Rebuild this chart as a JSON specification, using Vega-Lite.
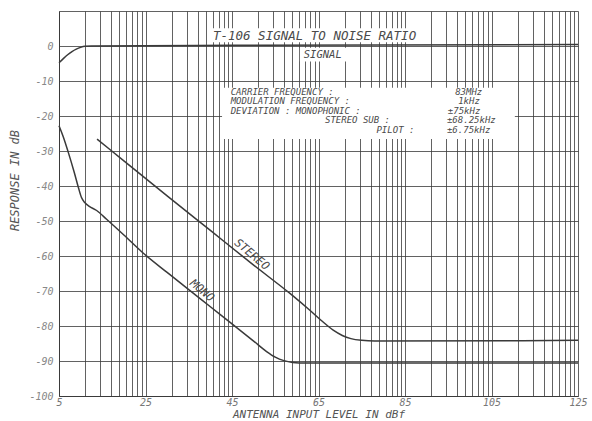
{
  "$schema": "https://vega.github.io/schema/vega-lite/v6.json",
  "width": 519,
  "height": 385,
  "autosize": {"type": "none"},
  "padding": {"left": 59, "top": 11, "right": 14, "bottom": 25},
  "background": "white",
  "config": {
    "view": {"stroke": null},
    "font": "DejaVu Sans Mono"
  },
  "datasets": {
    "curves": [
      {"series": "signal", "x": 5, "y": -4.8},
      {"series": "signal", "x": 6, "y": -3.6},
      {"series": "signal", "x": 7, "y": -2.5},
      {"series": "signal", "x": 8, "y": -1.6},
      {"series": "signal", "x": 9, "y": -0.9},
      {"series": "signal", "x": 10, "y": -0.4},
      {"series": "signal", "x": 11, "y": -0.1},
      {"series": "signal", "x": 12.5, "y": 0},
      {"series": "signal", "x": 45, "y": 0.2},
      {"series": "signal", "x": 125, "y": 0.4},
      {"series": "mono", "x": 5, "y": -22.8},
      {"series": "mono", "x": 6, "y": -26},
      {"series": "mono", "x": 7.15, "y": -30.4},
      {"series": "mono", "x": 8.5, "y": -36},
      {"series": "mono", "x": 9.5, "y": -40.5},
      {"series": "mono", "x": 10.2, "y": -43.3},
      {"series": "mono", "x": 11, "y": -44.8},
      {"series": "mono", "x": 12, "y": -45.8},
      {"series": "mono", "x": 13.7, "y": -47},
      {"series": "mono", "x": 16, "y": -49.5},
      {"series": "mono", "x": 20, "y": -54},
      {"series": "mono", "x": 24.5, "y": -59.2},
      {"series": "mono", "x": 30, "y": -64.7},
      {"series": "mono", "x": 35, "y": -69.6},
      {"series": "mono", "x": 40, "y": -74.5},
      {"series": "mono", "x": 45, "y": -79.4},
      {"series": "mono", "x": 50, "y": -84.3},
      {"series": "mono", "x": 53, "y": -87.3},
      {"series": "mono", "x": 55, "y": -88.9},
      {"series": "mono", "x": 57, "y": -89.9},
      {"series": "mono", "x": 59, "y": -90.4},
      {"series": "mono", "x": 62, "y": -90.6},
      {"series": "mono", "x": 125, "y": -90.6},
      {"series": "stereo", "x": 13.8, "y": -26.6},
      {"series": "stereo", "x": 20, "y": -32.8},
      {"series": "stereo", "x": 30, "y": -42.8},
      {"series": "stereo", "x": 40, "y": -52.7},
      {"series": "stereo", "x": 50, "y": -62.6},
      {"series": "stereo", "x": 58.4, "y": -70.7},
      {"series": "stereo", "x": 63, "y": -75.5},
      {"series": "stereo", "x": 66, "y": -78.8},
      {"series": "stereo", "x": 68.4, "y": -81.2},
      {"series": "stereo", "x": 70.5, "y": -82.7},
      {"series": "stereo", "x": 72.5, "y": -83.6},
      {"series": "stereo", "x": 75, "y": -84.1},
      {"series": "stereo", "x": 78, "y": -84.3},
      {"series": "stereo", "x": 125, "y": -84.1}
    ],
    "boxes": [
      {"x1": 42.7, "x2": 110.4, "y1": -11.9, "y2": -26.6},
      {"x1": 39.5, "x2": 89.6, "y1": 5.1, "y2": 1.1},
      {"x1": 60.7, "x2": 73.4, "y1": -0.5, "y2": -4.4}
    ],
    "titles": [
      {"x": 40.6, "y": 1.6, "text": "T-106 SIGNAL TO NOISE RATIO"}
    ],
    "sublabel": [
      {"x": 61.6, "y": -3.4, "text": "SIGNAL"}
    ],
    "notes": [
      {"x": 44.7, "y": -14.0, "text": "CARRIER FREQUENCY :"},
      {"x": 44.7, "y": -16.7, "text": "MODULATION FREQUENCY :"},
      {"x": 44.7, "y": -19.4, "text": "DEVIATION : MONOPHONIC :"},
      {"x": 66.5, "y": -22.1, "text": "STEREO SUB :"},
      {"x": 78.4, "y": -24.8, "text": "PILOT :"},
      {"x": 96.6, "y": -14.0, "text": "83MHz"},
      {"x": 97.3, "y": -16.7, "text": "1kHz"},
      {"x": 94.9, "y": -19.4, "text": "±75kHz"},
      {"x": 94.7, "y": -22.1, "text": "±68.25kHz"},
      {"x": 94.7, "y": -24.8, "text": "±6.75kHz"}
    ],
    "slanted": [
      {"x": 49.5, "y": -59.7, "text": "STEREO"},
      {"x": 38, "y": -70, "text": "MONO"}
    ]
  },
  "layer": [
    {
      "data": {"name": "boxes"},
      "mark": {"type": "rect", "fill": "white", "stroke": null},
      "encoding": {
        "x": {
          "field": "x1", "type": "quantitative",
          "scale": {"domain": [5, 125], "nice": false, "zero": false},
          "axis": {
            "values": [5, 11.02, 14.54, 17.04, 18.98, 20.56, 21.9, 23.06, 24.08,
                       25, 31.02, 34.54, 37.04, 38.98, 40.56, 41.9, 43.06, 44.08,
                       45, 51.02, 54.54, 57.04, 58.98, 60.56, 61.9, 63.06, 64.08,
                       65, 71.02, 74.54, 77.04, 78.98, 80.56, 81.9, 83.06, 84.08,
                       85, 91.02, 94.54, 97.04, 98.98, 100.56, 101.9, 103.06, 104.08,
                       105, 111.02, 114.54, 117.04, 118.98, 120.56, 121.9, 123.06, 124.08, 125],
            "tickCount": 200,
            "format": "d",
            "labelExpr": "indexof([5,25,45,65,85,105,125], datum.value) >= 0 ? datum.label : ''",
            "labelOverlap": false,
            "labelFlush": false,
            "ticks": false,
            "grid": true,
            "gridColor": "#3a3a3a",
            "gridWidth": 0.8,
            "gridOpacity": 1,
            "domainColor": "#3a3a3a",
            "domainWidth": 1,
            "labelFont": "DejaVu Sans Mono",
            "labelFontStyle": "italic",
            "labelFontSize": 10,
            "labelColor": "#777",
            "labelPadding": 1,
            "title": "ANTENNA INPUT LEVEL IN dBf",
            "titleFont": "DejaVu Sans Mono",
            "titleFontStyle": "italic",
            "titleFontWeight": "normal",
            "titleFontSize": 11,
            "titleColor": "#555",
            "titlePadding": 1
          }
        },
        "x2": {"field": "x2"},
        "y": {
          "field": "y1", "type": "quantitative",
          "scale": {"domain": [-100, 10], "nice": false, "zero": false},
          "axis": {
            "values": [-100, -90, -80, -70, -60, -50, -40, -30, -20, -10, 0, 10],
            "tickCount": 200,
            "format": "d",
            "labelExpr": "datum.value > 5 ? '' : replace(datum.label, '−', '-')",
            "labelOverlap": false,
            "labelFlush": false,
            "ticks": false,
            "grid": true,
            "gridColor": "#3a3a3a",
            "gridWidth": 0.8,
            "gridOpacity": 1,
            "domainColor": "#3a3a3a",
            "domainWidth": 1,
            "labelFont": "DejaVu Sans Mono",
            "labelFontStyle": "italic",
            "labelFontSize": 10,
            "labelColor": "#888",
            "labelPadding": 6,
            "title": "RESPONSE IN dB",
            "titleFont": "DejaVu Sans Mono",
            "titleFontStyle": "italic",
            "titleFontWeight": "normal",
            "titleFontSize": 12,
            "titleColor": "#555",
            "titleY": 169,
            "titleX": -38
          }
        },
        "y2": {"field": "y2"}
      }
    },
    {
      "data": {"name": "curves"},
      "mark": {"type": "line", "color": "#3a3a3a", "strokeWidth": 1.5, "interpolate": "monotone"},
      "encoding": {
        "x": {"field": "x", "type": "quantitative"},
        "y": {"field": "y", "type": "quantitative"},
        "detail": {"field": "series"}
      }
    },
    {
      "data": {"name": "titles"},
      "mark": {"type": "text", "align": "left", "baseline": "alphabetic", "font": "DejaVu Sans Mono", "fontStyle": "italic", "fontSize": 12.5, "color": "#4a4a4a"},
      "encoding": {
        "x": {"field": "x", "type": "quantitative"},
        "y": {"field": "y", "type": "quantitative"},
        "text": {"field": "text"}
      }
    },
    {
      "data": {"name": "sublabel"},
      "mark": {"type": "text", "align": "left", "baseline": "alphabetic", "font": "DejaVu Sans Mono", "fontStyle": "italic", "fontSize": 10.5, "color": "#4a4a4a"},
      "encoding": {
        "x": {"field": "x", "type": "quantitative"},
        "y": {"field": "y", "type": "quantitative"},
        "text": {"field": "text"}
      }
    },
    {
      "data": {"name": "notes"},
      "mark": {"type": "text", "align": "left", "baseline": "alphabetic", "font": "DejaVu Sans Mono", "fontStyle": "italic", "fontSize": 9, "color": "#4a4a4a"},
      "encoding": {
        "x": {"field": "x", "type": "quantitative"},
        "y": {"field": "y", "type": "quantitative"},
        "text": {"field": "text"}
      }
    },
    {
      "data": {"name": "slanted"},
      "mark": {"type": "text", "align": "center", "baseline": "middle", "angle": 40, "font": "DejaVu Sans Mono", "fontStyle": "italic", "fontSize": 11.5, "color": "#4a4a4a"},
      "encoding": {
        "x": {"field": "x", "type": "quantitative"},
        "y": {"field": "y", "type": "quantitative"},
        "text": {"field": "text"}
      }
    }
  ]
}
